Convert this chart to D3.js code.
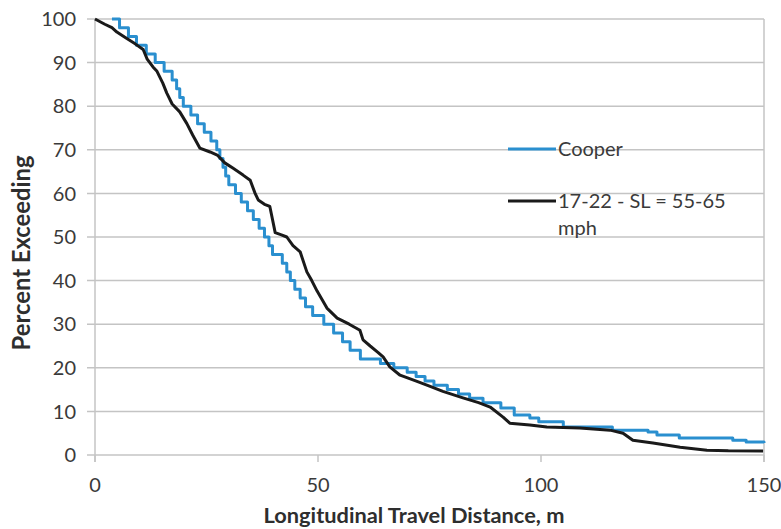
<!DOCTYPE html>
<html><head><meta charset="utf-8">
<script src="https://cdn.jsdelivr.net/npm/d3@7"></script>
<style>body{margin:0;background:#fff}svg{display:block}</style>
</head><body>
<svg id="c" width="781" height="529"></svg>
<script>
// Data
const yTicks = [0,10,20,30,40,50,60,70,80,90,100];
const xTicks = [0,50,100,150];
const seriesNames = ["Cooper","17-22 - SL = 55-65 mph"];

// Cooper (stair-step exceedance curve)
const cooperX = [3.8,5.5,7.5,9.3,11.5,13.5,15.5,17.3,18.3,19.0,19.8,21.5,23.0,24.5,26.0,27.3,28.0,28.7,29.3,30.0,31.5,32.8,34.2,35.5,36.8,38.0,39.0,39.8,42.0,43.0,43.8,44.8,46.0,47.2,48.8,51.3,53.5,55.5,57.2,59.5,64,67,70,72,74,76,79,81.5,84,87,91,94,97.5,99.5,105,116,124,126,131,143,146,150];
const cooperY = [100,98,96,94,92,90,88,86,84,82,80,78,76,74,72,70,68,66,64,62,60,58,56,54,52,50,48,46,44,42,40,38,36,34,32,30,28,26,24,22,21,20,19,18,17,16,15,14,13,12,10.8,9.2,8.5,7.6,6.4,5.7,5.3,4.6,3.9,3.4,3.0,2.75];

// 17-22 - SL = 55-65 mph
const blackX = [0,2.2,3.8,4.9,6.7,9.0,10.8,11.7,13.0,13.9,15.2,16.1,17.3,19.0,20.6,21.9,23.5,25.8,27.4,29.1,30.9,33.2,34.8,35.9,36.6,38.0,39.2,39.8,40.4,41.8,43.0,44.4,46.0,47.5,48.6,49.8,51.0,52.0,54.3,57.0,59.4,60.1,61.7,63.5,64.6,66.1,68.4,72.2,75.0,78.0,82.5,86.0,88.6,91.5,93.0,97.5,101.3,108.7,115.5,118.4,120.6,125.1,131.2,137.2,142.0,149.8];
const blackY = [100,98.8,98.0,97.0,95.8,94.3,93.0,90.8,89.0,88.0,85.3,83.0,80.5,78.7,76.0,73.4,70.4,69.5,68.8,67.0,65.8,64.2,63.0,60.0,58.5,57.5,57.0,54.0,51.0,50.5,50.0,48.0,46.6,42.0,40.0,37.6,35.5,33.7,31.4,30.0,28.6,26.4,25.0,23.5,22.5,20.2,18.3,16.9,15.8,14.6,13.1,12.0,11.0,8.7,7.3,6.9,6.4,6.2,5.7,5.0,3.4,2.75,1.8,1.1,0.95,0.9];

const svg = d3.select("#c");
const m = {l:95, r:764, t:19, b:455};
const x = d3.scaleLinear().domain([0,150]).range([m.l,m.r]);
const y = d3.scaleLinear().domain([0,100]).range([m.b,m.t]);
const font = "Lato, 'Open Sans', sans-serif";
const grid = "#c4c4c4";
const txt = "#3a3a3a";

function fit(sel, target){
  const n = sel.node(); const fs = parseFloat(sel.attr("font-size"));
  const w = n.getComputedTextLength();
  if (w>0) sel.attr("font-size", fs*target/w);
}

// gridlines
svg.append("g").selectAll("line").data(yTicks).join("line")
  .attr("x1", m.l-8).attr("x2", m.r)
  .attr("y1", d=>y(d)).attr("y2", d=>y(d))
  .attr("stroke", grid).attr("stroke-width", 1.5);

// left axis line and right border
svg.append("line").attr("x1",m.l).attr("x2",m.l).attr("y1",m.t).attr("y2",m.b+7)
  .attr("stroke",grid).attr("stroke-width",1.5);
svg.append("line").attr("x1",m.r).attr("x2",m.r).attr("y1",m.t).attr("y2",m.b+7)
  .attr("stroke",grid).attr("stroke-width",1.5);
// x ticks
svg.append("g").selectAll("line").data(xTicks).join("line")
  .attr("x1",d=>x(d)).attr("x2",d=>x(d)).attr("y1",m.b).attr("y2",m.b+7)
  .attr("stroke",grid).attr("stroke-width",1.5);

// y tick labels
svg.append("g").selectAll("text").data(yTicks).join("text")
  .attr("x", 76).attr("y", d=>y(d)).attr("dy","0.36em")
  .attr("text-anchor","end").attr("font-family",font).attr("font-size",20)
  .attr("fill",txt).text(d=>d);
// x tick labels
svg.append("g").selectAll("text").data(xTicks).join("text")
  .attr("x", d=>x(d)).attr("y", 492).attr("text-anchor","middle")
  .attr("font-family",font).attr("font-size",20).attr("fill",txt).text(d=>d);

// axis titles
const xt = svg.append("text").attr("x",414).attr("y",523).attr("text-anchor","middle")
  .attr("font-family",font).attr("font-weight","bold").attr("font-size",20)
  .attr("fill","#2e2e2e").text("Longitudinal Travel Distance, m");
fit(xt, 301);
const yt = svg.append("text").attr("transform","translate(30,253) rotate(-90)").attr("text-anchor","middle")
  .attr("font-family",font).attr("font-weight","bold").attr("font-size",20)
  .attr("fill","#2e2e2e").text("Percent Exceeding");
fit(yt, 195);

// lines
const cooper = cooperX.map((d,i)=>[d,cooperY[i]]);
const black = blackX.map((d,i)=>[d,blackY[i]]);
svg.append("path").datum(cooper)
  .attr("d", d3.line().x(d=>x(d[0])).y(d=>y(d[1])).curve(d3.curveStepAfter))
  .attr("fill","none").attr("stroke","#2a8fcf").attr("stroke-width",3).attr("stroke-linejoin","round");
svg.append("path").datum(black)
  .attr("d", d3.line().x(d=>x(d[0])).y(d=>y(d[1])))
  .attr("fill","none").attr("stroke","#1a1a1a").attr("stroke-width",3).attr("stroke-linejoin","round");

// legend
const lg = svg.append("g").attr("font-family",font).attr("font-size",20).attr("fill",txt);
lg.append("line").attr("x1",508).attr("x2",556).attr("y1",149).attr("y2",149)
  .attr("stroke","#2a8fcf").attr("stroke-width",3);
lg.append("text").attr("x",558).attr("y",156).text(seriesNames[0]);
lg.append("line").attr("x1",508).attr("x2",556).attr("y1",201).attr("y2",201)
  .attr("stroke","#1a1a1a").attr("stroke-width",3);
const t2 = lg.append("text").attr("x",558).attr("y",208);
t2.append("tspan").attr("x",558).text("17-22 - SL = 55-65");
t2.append("tspan").attr("x",558).attr("dy",27).text("mph");
</script>
</body></html>
